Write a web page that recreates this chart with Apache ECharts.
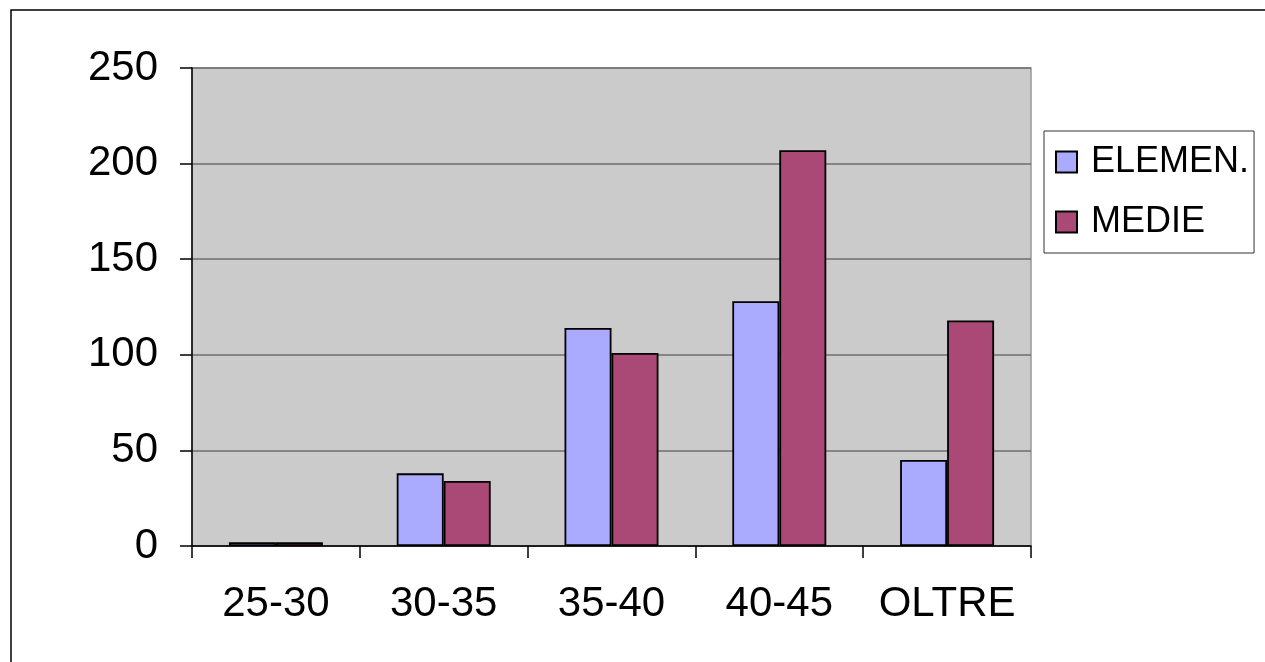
<!DOCTYPE html>
<html>
<head>
<meta charset="utf-8">
<script src="https://cdn.jsdelivr.net/npm/echarts@6/dist/echarts.min.js"></script>
<style>
html,body{margin:0;padding:0;background:#fff;}
#chart{width:1265px;height:662px;}
</style>
</head>
<body>
<div id="chart"></div>
<script>
const categories = ['25-30', '30-35', '35-40', '40-45', 'OLTRE'];
const elemen = [2, 38, 114, 128, 45];
const medie = [2, 34, 101, 207, 118];
const seriesNames = ['ELEMEN.', 'MEDIE'];

const chart = echarts.init(document.getElementById('chart'));
const font = 'Liberation Sans, Arial, sans-serif';
chart.setOption({
  animation: false,
  backgroundColor: '#fff',
  graphic: [{
    type: 'polyline',
    shape: { points: [[11, 662], [11, 10], [1265, 10]] },
    style: { stroke: '#000', lineWidth: 1.5, fill: null },
    silent: true
  }],
  grid: {
    left: 192, right: 234, top: 68, bottom: 116,
    show: true, backgroundColor: '#cbcbcb', borderColor: '#999', borderWidth: 1.5
  },
  legend: {
    orient: 'vertical',
    left: 1044, top: 131,
    padding: [11, 5, 11, 11],
    itemGap: 20,
    itemWidth: 21, itemHeight: 21,
    icon: 'rect',
    backgroundColor: '#fff',
    borderColor: '#333', borderWidth: 1,
    itemStyle: { borderColor: '#000', borderWidth: 2 },
    textStyle: { fontSize: 36, fontFamily: font, color: '#000', lineHeight: 40, padding: [0, 0, 0, 9] },
    data: seriesNames
  },
  xAxis: {
    type: 'category',
    data: categories,
    axisLine: { lineStyle: { color: '#000', width: 1.5 } },
    axisTick: { show: true, length: 12, lineStyle: { color: '#000', width: 1.5 } },
    axisLabel: { interval: 0, fontSize: 42, fontFamily: font, color: '#000', margin: 37 },
    splitLine: { show: false }
  },
  yAxis: {
    type: 'value',
    min: 0, max: 250, interval: 50,
    axisLine: { show: true, lineStyle: { color: '#000', width: 1.5 } },
    axisTick: { show: true, length: 12, lineStyle: { color: '#000', width: 1.5 } },
    axisLabel: { fontSize: 42, fontFamily: font, color: '#000', margin: 34 },
    splitLine: { show: true, lineStyle: { color: '#6e6e6e', width: 1.5 } }
  },
  series: [
    {
      name: seriesNames[0], type: 'bar', data: elemen,
      barGap: '0%', barCategoryGap: '44%',
      itemStyle: { color: '#aaabff', borderColor: '#000', borderWidth: 1.8 }
    },
    {
      name: seriesNames[1], type: 'bar', data: medie,
      barGap: '0%', barCategoryGap: '44%',
      itemStyle: { color: '#aa4876', borderColor: '#000', borderWidth: 1.8 }
    }
  ]
});
</script>
</body>
</html>
